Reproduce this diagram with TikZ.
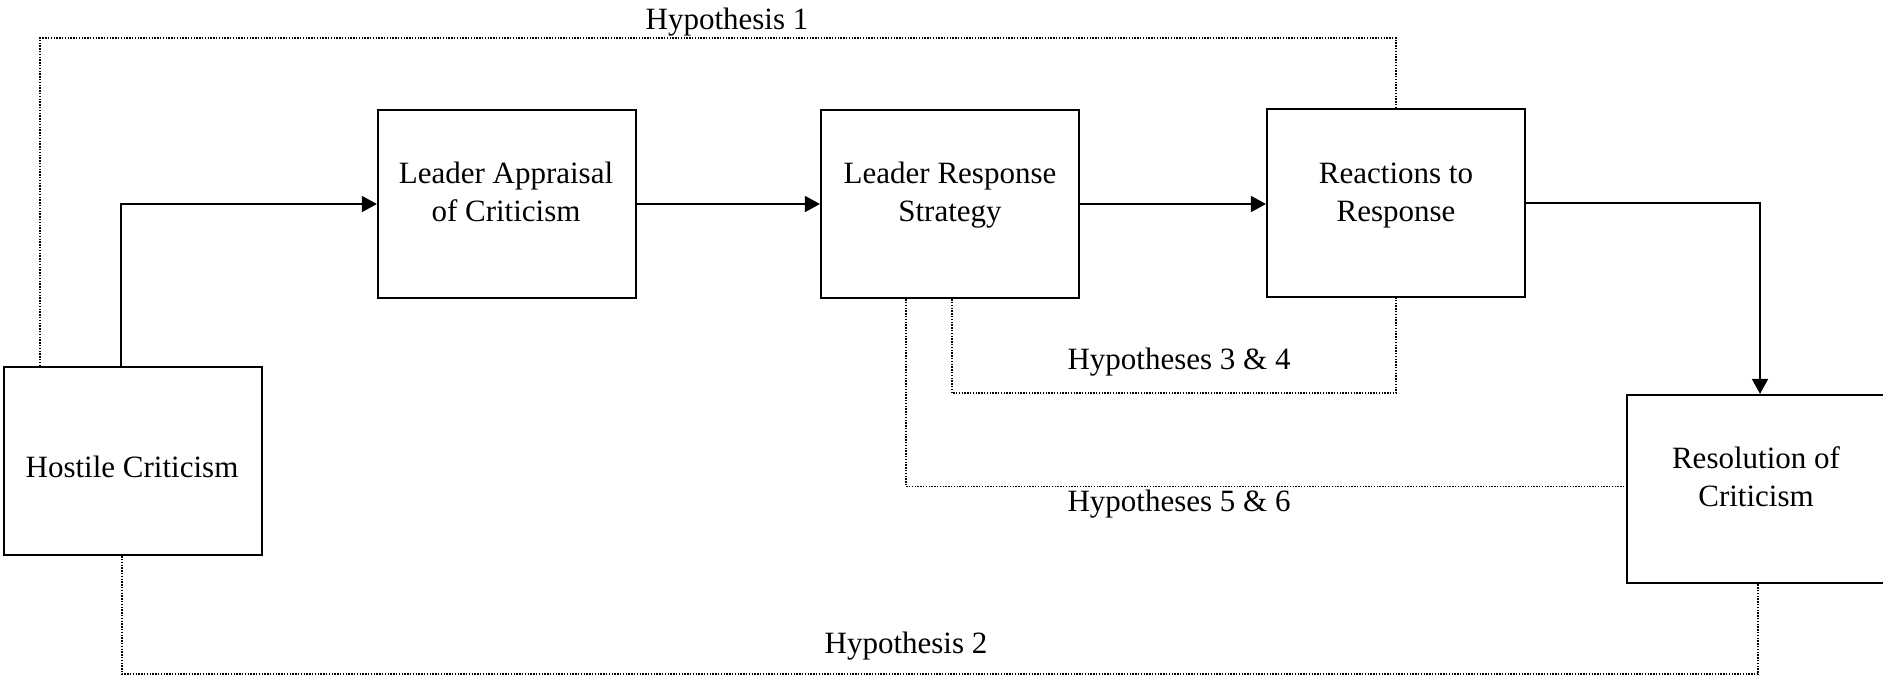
\documentclass[tikz,border=0pt]{standalone}
\usepackage{fontspec}
\setmainfont{Liberation Serif}
\usetikzlibrary{arrows.meta,calc}
\newcommand{\twol}[2]{\begin{tabular}[t]{@{}c@{}}#1\\#2\end{tabular}}
\begin{document}
\begin{tikzpicture}[x=0.5pt,y=-0.5pt,
  box/.style={draw,line width=1.1pt,minimum width=129pt,minimum height=94pt,inner sep=0pt},
  txt/.style={anchor=base,inner sep=0pt,font=\fontsize{15.5}{18.8}\selectfont},
  flow/.style={line width=0.85pt,-{Triangle[length=7.5pt,width=8pt]}},
  hyp/.style={line width=0.7pt,dash pattern=on 0.7pt off 0.7pt}]
\useasboundingbox (0,0) rectangle (1883,677);
\fill[white] (0,0) rectangle (1883,677);
% boxes
\node[box] (hc) at (133,461) {};
\node[box] (la) at (507,204) {};
\node[box] (lr) at (950,204) {};
\node[box] (rr) at (1396,203) {};
\node[box] (rc) at (1756,489) {};
% box texts
\node[txt] (thc) at (132,477) {Hostile Criticism};
\node[txt] (tla) at (506,183.5) {\twol{Leader Appraisal}{of Criticism}};
\node[txt] (tlr) at (950,183.5) {\twol{Leader Response}{Strategy}};
\node[txt] (trr) at (1396,183.5) {\twol{Reactions to}{Response}};
\node[txt] (trc) at (1756,468.5) {\twol{Resolution of}{Criticism}};
% flow arrows
\draw[flow] ([xshift=-6pt]hc.north) |- (la.west);
\draw[flow] (la.east) -- (la.east -| lr.west);
\draw[flow] (lr.east) -- (lr.east -| rr.west);
\draw[flow] (rr.east) -| ([xshift=2pt]rc.north);
% hypotheses
\coordinate (h1) at ($(rr.north)+(0,-70)$);
\draw[hyp] ([xshift=-46.5pt]hc.north) |- (h1) -- (rr.north);
\node[txt] (lh1) at (727,29) {Hypothesis 1};
\coordinate (h34) at ($(rr.south)+(0,95)$);
\draw[hyp] ([xshift=1pt]lr.south) |- (h34) -- (rr.south);
\node[txt] (lh34) at (1179,369) {Hypotheses 3 \& 4};
\draw[hyp] ([xshift=-22pt]lr.south) |- ([yshift=1.2pt]rc.west);
\node[txt] (lh56) at (1179,511) {Hypotheses 5 \& 6};
\coordinate (h2) at ($(rc.south)+(2,90)$);
\draw[hyp] ([xshift=-5.5pt]hc.south) |- (h2) -- ([xshift=1pt]rc.south);
\node[txt] (lh2) at (906,653) {Hypothesis 2};
\end{tikzpicture}
\end{document}
